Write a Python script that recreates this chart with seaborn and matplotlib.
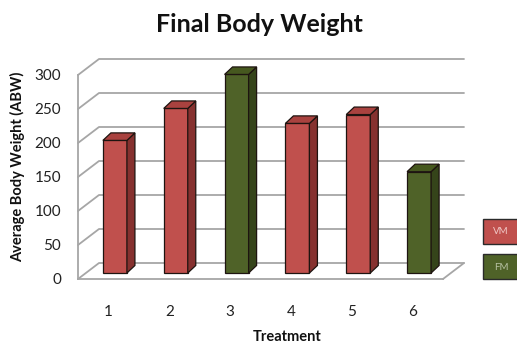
import matplotlib
matplotlib.use("Agg")
import matplotlib.pyplot as plt
from matplotlib.patches import Polygon, Rectangle
from matplotlib.transforms import ScaledTranslation
import pandas as pd
import seaborn as sns

# Final body weight per treatment
treatments = ["1", "2", "3", "4", "5", "6"]
abw = [195, 242, 292, 220, 233, 149]
feed = ["VM", "VM", "FM", "VM", "VM", "FM"]
y_ticks = [0, 50, 100, 150, 200, 250, 300]
legend_order = ["VM", "FM"]

front_colors = {"VM": "#C0504D", "FM": "#4F6228"}
side_colors = {"VM": "#86312F", "FM": "#35441A"}
top_colors = {"VM": "#A9423F", "FM": "#46581F"}
edge_color = "#1E1410"
grid_color = "#A6A6A6"

sns.set_theme(style="white")
plt.rcParams["font.family"] = ["Lato", "DejaVu Sans"]

W, H = 517, 345
fig = plt.figure(figsize=(W / 100, H / 100), dpi=100)
# axes = front plane of the 3-D box, in pixel layout
x_left, x_right, y_zero, y_top = 78, 443, 279, 75
ax = fig.add_axes([x_left / W, (H - y_zero) / H,
                   (x_right - x_left) / W, (y_zero - y_top) / H])

df = pd.DataFrame({"Treatment": treatments, "ABW": abw, "Feed": feed})
sns.barplot(data=df, x="Treatment", y="ABW", hue="Feed", palette=front_colors,
            dodge=False, width=0.395, saturation=1, edgecolor=edge_color,
            linewidth=0.9, legend=False, ax=ax, zorder=3)
ax.set_xlim(-0.5, 5.5)
ax.set_ylim(0, 300)

px_per_cat = (x_right - x_left) / 6.0
px_per_unit = (y_zero - y_top) / 300.0


def dxp(p):
    return p / px_per_cat


def dyp(p):
    return p / px_per_unit


# back wall, side wall and floor lines
wall_dx, wall_dy = dxp(21), dyp(16)
for v in y_ticks:
    ax.plot([-0.5, -0.5 + wall_dx, 5.5 + wall_dx], [v, v + wall_dy, v + wall_dy],
            color=grid_color, lw=1.3, clip_on=False, zorder=1)
ax.plot([5.5, 5.5 + wall_dx], [0, wall_dy], color=grid_color, lw=1.3,
        clip_on=False, zorder=1)

# bars sit inside the box: shift front faces back, then add side and top faces
offset = ax.transData + ScaledTranslation(6.5 / 100, 6 / 100, fig.dpi_scale_trans)
bar_dx, bar_dy = dxp(8), dyp(7.5)
for p in list(ax.patches):
    h = p.get_height()
    if not h or h != h:
        continue
    x0, w = p.get_x(), p.get_width()
    grp = feed[int(round(x0 + w / 2))]
    p.set_transform(offset)
    p.set_clip_on(False)
    side = Polygon([(x0 + w, 0), (x0 + w + bar_dx, bar_dy),
                    (x0 + w + bar_dx, h + bar_dy), (x0 + w, h)],
                   closed=True, facecolor=side_colors[grp], edgecolor=edge_color,
                   lw=0.9, transform=offset, clip_on=False, zorder=3)
    top = Polygon([(x0, h), (x0 + bar_dx, h + bar_dy),
                   (x0 + w + bar_dx, h + bar_dy), (x0 + w, h)],
                  closed=True, facecolor=top_colors[grp], edgecolor=edge_color,
                  lw=0.9, transform=offset, clip_on=False, zorder=3)
    ax.add_patch(side)
    ax.add_patch(top)

# axes styling
for s in ["top", "right"]:
    ax.spines[s].set_visible(False)
for s in ["left", "bottom"]:
    ax.spines[s].set_color(grid_color)
    ax.spines[s].set_linewidth(1.3)
ax.set_yticks(y_ticks)
ax.set_yticklabels([str(v) for v in y_ticks], fontsize=11, color="#222222")
ax.tick_params(axis="y", direction="out", length=6, width=1.2, color=grid_color, pad=6)
ax.set_xticks(range(6))
ax.set_xticklabels(treatments, fontsize=11, color="#222222")
ax.set_xticks([i - 0.5 for i in range(7)], minor=True)
ax.tick_params(axis="x", which="major", length=0, pad=19)
ax.tick_params(axis="x", which="minor", direction="out", length=5, width=1.2,
               color=grid_color)
ax.set_xlabel("")
ax.set_ylabel("")
ax.grid(False)

fig.text(259 / W, 1 - 24 / H, "Final Body Weight", ha="center", va="center",
         fontsize=18, fontweight="bold", color="#111111")
fig.text(18 / W, 1 - 167 / H, "Average Body Weight (ABW)", ha="center", va="center",
         rotation=90, fontsize=10.5, fontweight="bold", color="#111111")
fig.text(287 / W, 1 - 337 / H, "Treatment", ha="center", va="center",
         fontsize=10.5, fontweight="bold", color="#111111")

# legend boxes
text_colors = {"VM": "#F0C8C6", "FM": "#B8C2A4"}
for i, g in enumerate(legend_order):
    top_px = 219 + i * 35
    fig.add_artist(Rectangle((483 / W, 1 - (top_px + 25) / H), 40 / W, 25 / H,
                             transform=fig.transFigure, facecolor=front_colors[g],
                             edgecolor="#2A2A2A", lw=1.0))
    fig.text(501 / W, 1 - (top_px + 13) / H, g, ha="center", va="center",
             fontsize=7, color=text_colors[g])

fig.savefig("out.png", dpi=100)
